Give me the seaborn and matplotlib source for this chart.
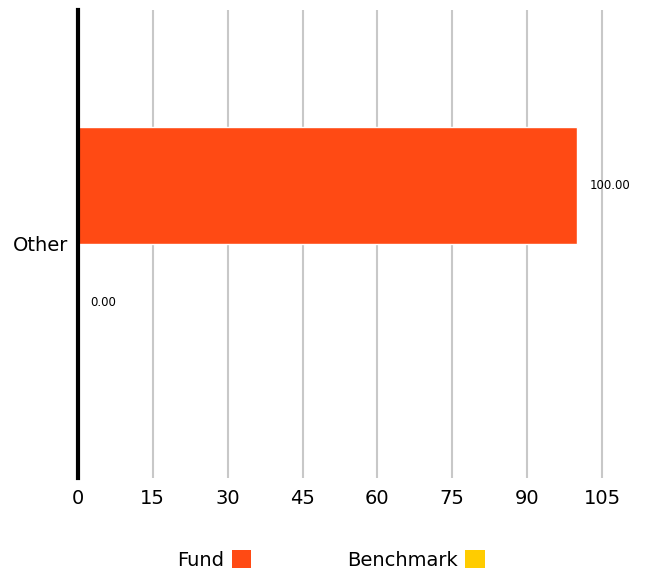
import numpy as np
import pandas as pd
import matplotlib
matplotlib.use("Agg")
import matplotlib.pyplot as plt
import seaborn as sns
from matplotlib.patches import Patch

# chart data
categories = ["Other"]
series = ["Fund", "Benchmark"]
fund_values = [100.00]
benchmark_values = [0.00]
x_ticks = [0, 15, 30, 45, 60, 75, 90, 105]

colors = {"Fund": "#FF4A14", "Benchmark": "#FFCC00"}

df = pd.DataFrame({
    "category": categories * 2,
    "series": ["Fund"] * len(categories) + ["Benchmark"] * len(categories),
    "value": fund_values + benchmark_values,
})

sns.set_style("white")
plt.rcParams["font.family"] = ["DejaVu Sans"]
plt.rcParams["text.color"] = "black"
plt.rcParams["xtick.color"] = "black"
plt.rcParams["ytick.color"] = "black"

fig = plt.figure(figsize=(6.49, 5.76), dpi=100)
ax = fig.add_axes([0.12, 0.17, 0.81, 0.813])

sns.barplot(data=df, x="value", y="category", hue="series", hue_order=series,
            palette=colors, width=0.5, orient="h", legend=False, ax=ax,
            saturation=1)

for c in ax.containers:
    ax.bar_label(c, fmt="%.2f", padding=9, fontsize=8.5, color="black")

ax.set_xlim(0, 105.3)
ax.set_ylim(0.5, -0.5)
ax.set_xticks(x_ticks)
ax.xaxis.grid(True, color="#c8c8c8", linewidth=1.5)
ax.set_axisbelow(True)
ax.set_xlabel("")
ax.set_ylabel("")
for s in ["top", "right", "bottom"]:
    ax.spines[s].set_visible(False)
ax.spines["left"].set_linewidth(3)
ax.spines["left"].set_color("black")
ax.tick_params(axis="x", length=0, pad=8, labelsize=14, labelcolor="black")
ax.tick_params(axis="y", length=0, pad=7, labelsize=14, labelcolor="black")

handles = [Patch(facecolor=colors[s], edgecolor="none", label=s) for s in series]
fig.legend(handles=handles, loc="center", bbox_to_anchor=(0.51, 0.028), ncol=2,
           frameon=False, markerfirst=False, fontsize=14, handlelength=1.0,
           handleheight=1.0, handletextpad=0.4, columnspacing=4.9)

fig.savefig("out.png", dpi=100)
